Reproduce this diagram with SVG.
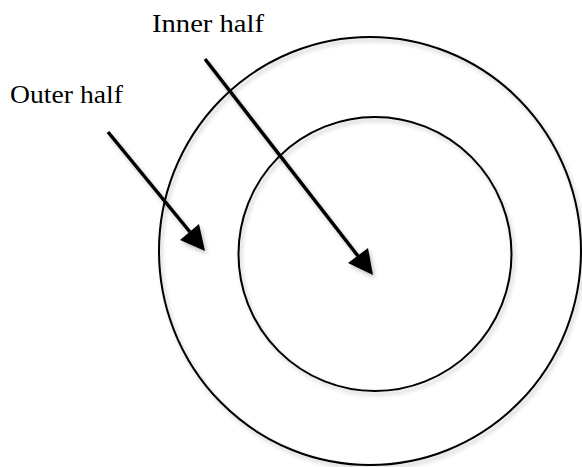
<svg xmlns="http://www.w3.org/2000/svg" width="582" height="467" viewBox="0 0 582 467">
<style>
.ring{fill:none;stroke:#000;stroke-width:2}
.arr{stroke:#000;stroke-width:3.5;fill:none}
.head{fill:#000}
.lbl{font-family:"Liberation Serif","Times New Roman",serif;font-size:26px;fill:#000}
</style>
<defs>
<filter id="sh" x="-10%" y="-10%" width="130%" height="130%">
<feGaussianBlur in="SourceAlpha" stdDeviation="2"/>
<feOffset dx="2" dy="3" result="b"/>
<feComponentTransfer><feFuncA type="linear" slope="0.25"/></feComponentTransfer>
<feMerge><feMergeNode/><feMergeNode in="SourceGraphic"/></feMerge>
</filter>
</defs>
<rect width="582" height="467" fill="#fff"/>
<g id="outer-circle" filter="url(#sh)"><ellipse class="ring" cx="370" cy="251" rx="211" ry="214"/></g>
<g id="inner-circle" filter="url(#sh)"><ellipse class="ring" cx="375" cy="254" rx="136.5" ry="137"/></g>
<g id="label-inner"><text class="lbl" x="152" y="32" textLength="112" lengthAdjust="spacingAndGlyphs">Inner half</text></g>
<g id="label-outer"><text class="lbl" x="10" y="103" textLength="113" lengthAdjust="spacingAndGlyphs">Outer half</text></g>
<g id="connectors" filter="url(#sh)">
<line class="arr" x1="108" y1="132" x2="190" y2="232"/>
<polygon class="head" points="205,251 180,240 199,224"/>
<line class="arr" x1="205" y1="59" x2="358" y2="256"/>
<polygon class="head" points="373,275 348,263 368,248"/>
</g>
</svg>
